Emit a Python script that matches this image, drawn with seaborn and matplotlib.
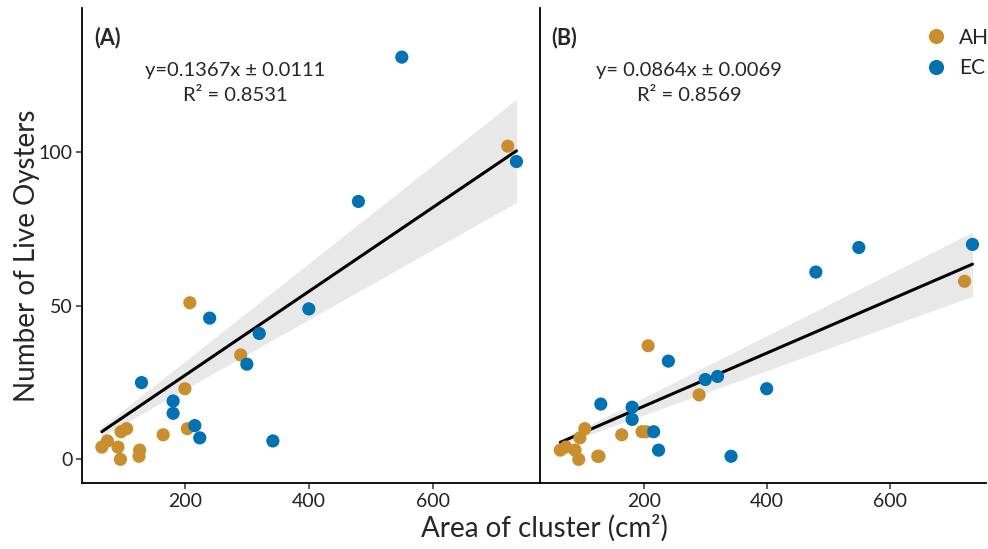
import numpy as np
import pandas as pd
import matplotlib
matplotlib.use("Agg")
import matplotlib.pyplot as plt
import seaborn as sns

# panel A
AH_AREA_A = [721, 208, 290, 200, 204, 165, 106, 97, 75, 66, 92, 96, 127, 126]
AH_LIVE_A = [102, 51, 34, 23, 10, 8, 10, 9, 6, 4, 4, 0, 3, 1]
EC_AREA_A = [550, 735, 480, 400, 240, 320, 300, 130, 181, 181, 216, 224, 342]
EC_LIVE_A = [131, 97, 84, 49, 46, 41, 31, 25, 19, 15, 11, 7, 6]

# panel B
AH_AREA_B = [722, 207, 290, 197, 204, 164, 125, 127, 104, 96, 64, 73, 88, 94]
AH_LIVE_B = [58, 37, 21, 9, 9, 8, 1, 1, 10, 7, 3, 4, 3, 0]
EC_AREA_B = [735, 550, 480, 400, 240, 320, 300, 130, 181, 181, 216, 224, 342]
EC_LIVE_B = [70, 69, 61, 23, 32, 27, 26, 18, 17, 13, 9, 3, 1]

SITES = ["AH", "EC"]
PANEL_TAGS = ["(A)", "(B)"]
EQUATIONS = ["y=0.1367x ± 0.0111", "y= 0.0864x ± 0.0069"]
R2_LABELS = ["R² = 0.8531", "R² = 0.8569"]
X_TICKS = [200, 400, 600]
Y_TICKS = [0, 50, 100]

PALETTE = {"AH": "#C98F2F", "EC": "#0072B2"}
T_CRIT = 2.056  # t(0.975, df=26)

sns.set_theme(style="ticks")
plt.rcParams['font.family'] = ['Lato', 'DejaVu Sans']


def make_df(ah_area, ah_live, ec_area, ec_live):
    rows = []
    for a, n in zip(ah_area, ah_live):
        rows.append({"Area": a, "Live": n, "Site": SITES[0]})
    for a, n in zip(ec_area, ec_live):
        rows.append({"Area": a, "Live": n, "Site": SITES[1]})
    return pd.DataFrame(rows)


def origin_fit(df):
    # linear model forced through the origin (y = b*x)
    x = df["Area"].to_numpy(float)
    y = df["Live"].to_numpy(float)
    b = (x * y).sum() / (x * x).sum()
    resid = y - b * x
    se = np.sqrt((resid ** 2).sum() / (len(x) - 1) / (x * x).sum())
    xs = np.linspace(x.min(), x.max(), 100)
    fit = pd.DataFrame({"Area": xs, "Live": b * xs,
                        "lo": (b - T_CRIT * se) * xs,
                        "hi": (b + T_CRIT * se) * xs})
    return fit


panels = [
    make_df(AH_AREA_A, AH_LIVE_A, EC_AREA_A, EC_LIVE_A),
    make_df(AH_AREA_B, AH_LIVE_B, EC_AREA_B, EC_LIVE_B),
]

fig = plt.figure(figsize=(9.88, 5.49), dpi=100)
W, H = 988, 549
ax_a = fig.add_axes([82 / W, 66 / H, 458 / W, 475 / H])
ax_b = fig.add_axes([540 / W, 66 / H, 446 / W, 475 / H], sharey=ax_a)
axes = [ax_a, ax_b]
xlims = [(34, 773), (31, 757)]

for i, (ax, df) in enumerate(zip(axes, panels)):
    fit = origin_fit(df)
    ax.fill_between(fit["Area"], fit["lo"], fit["hi"], color="#E8E8E8",
                    linewidth=0, zorder=1)
    sns.lineplot(data=fit, x="Area", y="Live", ax=ax, color="black",
                 linewidth=2.2, zorder=3)
    sns.scatterplot(data=df, x="Area", y="Live", hue="Site", palette=PALETTE,
                    hue_order=SITES, s=90, linewidth=0, ax=ax,
                    legend=(i == 1), zorder=4)

    ax.set_xlim(*xlims[i])
    ax.set_ylim(-7.7, 147)
    ax.set_xticks(X_TICKS)
    ax.set_yticks(Y_TICKS)
    ax.set_xlabel("")
    ax.set_ylabel("")
    ax.tick_params(axis="both", labelsize=14, length=4, width=1.1,
                   color="#333333", labelcolor="#222222", pad=3)
    for side in ["left", "bottom"]:
        ax.spines[side].set_linewidth(1.3)
        ax.spines[side].set_color("black")
    sns.despine(ax=ax)

    ax.text(0.026, 0.937, PANEL_TAGS[i], transform=ax.transAxes,
            fontsize=15.5, fontweight="bold", ha="left", va="center")
    ax.text(0.335, 0.869, EQUATIONS[i], transform=ax.transAxes,
            fontsize=14.5, ha="center", va="center")
    ax.text(0.335, 0.815, R2_LABELS[i], transform=ax.transAxes,
            fontsize=14.5, ha="center", va="center")

ax_b.tick_params(axis="y", left=False, labelleft=False)

leg = ax_b.legend(loc="upper right", bbox_to_anchor=(1.034, 0.985), frameon=False,
                  fontsize=15, handletextpad=0.1, labelspacing=0.5,
                  borderaxespad=0.2, markerscale=1.15)

fig.text(0.551, 0.038, "Area of cluster (cm²)", fontsize=20,
         ha="center", va="center")
fig.text(0.027, 0.535, "Number of Live Oysters", fontsize=20,
         ha="center", va="center", rotation=90)

fig.savefig("out.png", dpi=100)
plt.close(fig)
